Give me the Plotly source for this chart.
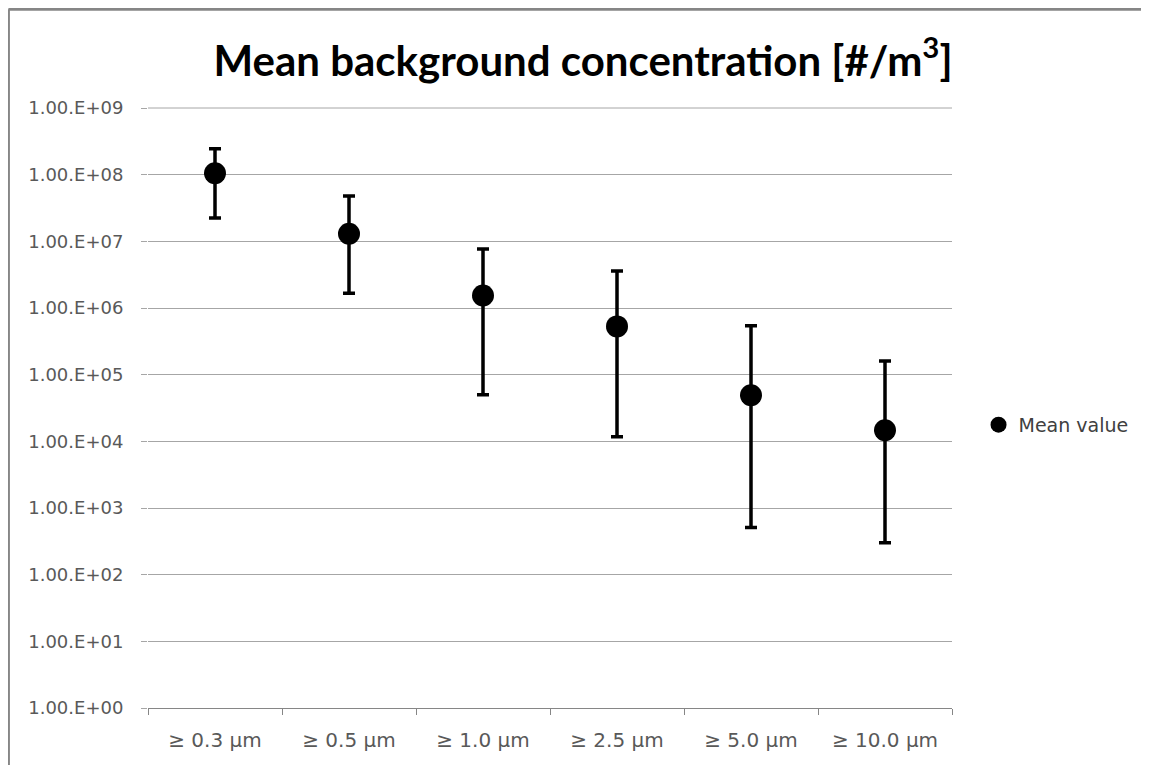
import plotly.graph_objects as go

categories = ["≥ 0.3 µm", "≥ 0.5 µm", "≥ 1.0 µm", "≥ 2.5 µm", "≥ 5.0 µm", "≥ 10.0 µm"]
mean_values = [1.05e8, 1.3e7, 1.54e6, 5.3e5, 4.9e4, 1.47e4]
upper_values = [2.45e8, 4.8e7, 7.7e6, 3.6e6, 5.4e5, 1.6e5]
lower_values = [2.24e7, 1.67e6, 5.0e4, 1.17e4, 5.1e2, 3.0e2]

tick_vals = [1e0, 1e1, 1e2, 1e3, 1e4, 1e5, 1e6, 1e7, 1e8, 1e9]
tick_text = ["1.00.E+00", "1.00.E+01", "1.00.E+02", "1.00.E+03", "1.00.E+04",
             "1.00.E+05", "1.00.E+06", "1.00.E+07", "1.00.E+08", "1.00.E+09"]

err_plus = [u - m for u, m in zip(upper_values, mean_values)]
err_minus = [m - l for m, l in zip(mean_values, lower_values)]

fig = go.Figure()
fig.add_trace(go.Scatter(
    x=categories, y=mean_values, mode="markers", name="Mean value",
    marker=dict(color="black", size=22, symbol="circle"),
    error_y=dict(type="data", symmetric=False, array=err_plus, arrayminus=err_minus,
                 color="black", thickness=3.5, width=6),
))

fig.update_layout(
    width=1141, height=757,
    margin=dict(l=140, r=197, t=100, b=57),
    paper_bgcolor="white", plot_bgcolor="white",
    font=dict(family="DejaVu Sans, sans-serif", color="#595959", size=18),
    title=dict(text="Mean background concentration [#/m<sup>3</sup>]",
               x=0.504, xref="container", xanchor="center", y=0.93, yanchor="middle",
               font=dict(family="Lato, sans-serif", size=42, color="black", weight="bold")),
    showlegend=True,
    legend=dict(x=1.033, xanchor="left", y=0.472, yanchor="middle",
                font=dict(family="DejaVu Sans, sans-serif", size=19, color="#404040"),
                itemsizing="trace", itemwidth=30, bgcolor="rgba(0,0,0,0)"),
    xaxis=dict(type="category", range=[-0.5, 5.5], tickson="boundaries", ticks="outside", ticklen=6,
               tickcolor="#868686", showline=True, linecolor="#868686", linewidth=1,
               showgrid=False, ticklabelstandoff=14,
               tickfont=dict(family="DejaVu Sans, sans-serif", size=20, color="#595959")),
    yaxis=dict(type="log", range=[0, 9], tickvals=tick_vals, ticktext=tick_text,
               showgrid=True, gridcolor="#a6a6a6", gridwidth=1, zeroline=False,
               showline=False, ticks="outside", ticklen=6, tickcolor="#a6a6a6",
               ticklabelstandoff=14,
               tickfont=dict(family="DejaVu Sans, sans-serif", size=18, color="#595959")),
)

# top gridline at the axis edge
fig.add_shape(type="line", xref="paper", yref="paper", x0=0, x1=1, y0=1, y1=1,
              line=dict(color="#a6a6a6", width=1), layer="below")

# outer chart border (as in the source)
fig.add_shape(type="line", xref="paper", yref="paper", x0=-0.1736, x1=1.3, y0=1.1645, y1=1.1645,
              line=dict(color="#868686", width=3))
fig.add_shape(type="line", xref="paper", yref="paper", x0=-0.1736, x1=-0.1736, y0=-0.2, y1=1.1645,
              line=dict(color="#868686", width=3))

fig.write_html("out.html")
